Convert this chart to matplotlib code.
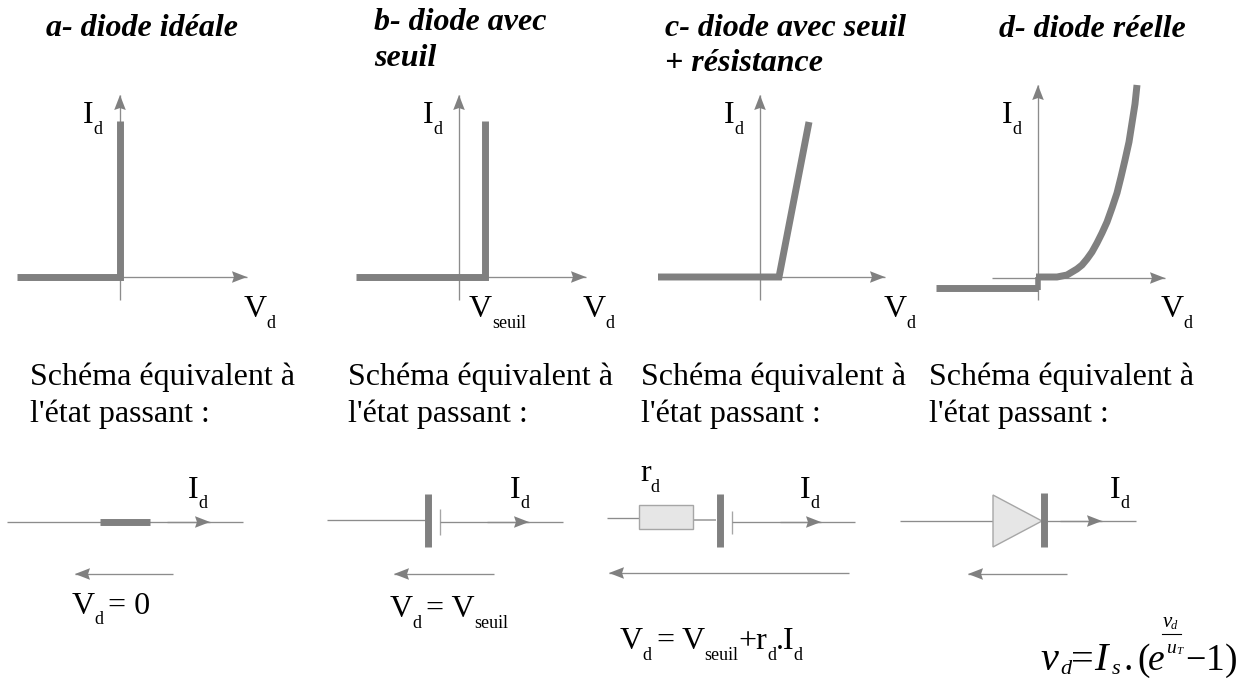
#!/usr/bin/env python3
# -*- coding: utf-8 -*-
"""
Caracteristiques de la diode : 4 modeles et schemas equivalents
Tout est place en pixels de l'image (y vers le bas)
"""

import matplotlib
matplotlib.use("Agg")
import matplotlib.pyplot as plt
from matplotlib.patches import Polygon, Rectangle

plt.rcParams['font.family'] = ['Liberation Serif', 'DejaVu Serif']

W, H = 1243, 679
GREY = "#808080"
LIGHT = "#a6a6a6"
FILL = "#e6e6e6"

# titres (une ligne par entree)
title_lines = ["a- diode idéale", "b- diode avec", "seuil", "c- diode avec seuil", "+ résistance", "d- diode réelle"]
title_x = [46, 374, 374, 665, 665, 999]
title_y = [36, 30, 66, 36, 71, 37]

# caracteristiques I(V)
curve_a_x = [17, 120, 120]
curve_a_y = [277, 277, 121]
curve_b_x = [356, 485, 485]
curve_b_y = [277, 277, 121]
curve_c_x = [658, 779, 809]
curve_c_y = [277, 277, 122]
curve_d1_x = [936, 1038]
curve_d1_y = [288, 288]
curve_d_step_x = [1038, 1038]
curve_d_step_y = [290, 277]
curve_d2_x = [1036, 1057, 1062, 1067, 1072, 1077, 1082, 1087, 1092, 1097, 1102, 1107, 1112, 1117, 1121, 1125, 1129, 1132, 1135, 1137]
curve_d2_y = [277, 277, 276, 275, 272, 269, 265, 259, 252, 243, 233, 222, 208, 193, 177, 160, 142, 123, 104, 85]

# axes : x du y-axe, y de l'x-axe, debut x-axe, fin x-axe, haut y-axe
axis_vx = [120, 459, 760, 1038]
axis_hy = [277, 277, 277, 278]
axis_x0 = [120, 459, 760, 992]
axis_x1 = [247, 586, 885, 1165]
axis_top = [95, 95, 95, 85]
axis_bot = 300

equiv_x = [30, 348, 641, 929]
equiv_line1 = "Schéma équivalent à"
equiv_line2 = "l'état passant :"

# fleches de tension : depart, pointe, y
vd_arrow_start = [173, 494, 849, 1067]
vd_arrow_tip = [75, 394, 609, 968]
vd_arrow_y = [574, 574, 573, 574]

# fleches de courant
id_arrow_start = [167, 487, 780, 1060]
id_arrow_tip = [210, 529, 821, 1102]
id_arrow_y = [522, 522, 522, 521]

# formule : x, y, texte, taille, style
formula_x = [1040, 1060, 1071, 1094, 1112, 1124, 1137, 1148, 1185, 1206, 1225]
formula_y = [670, 674, 670, 670, 674, 670, 670, 670, 670, 670, 670]
formula_s = ["v", "d", "=", "I", "s", ".", "(", "e", "−", "1", ")"]
formula_size = [29, 16, 29, 29, 16, 27, 27, 27, 26, 27, 27]
formula_style = ["italic", "italic", "normal", "italic", "italic", "normal", "normal", "italic", "normal", "normal", "normal"]
exp_x = [1163, 1171, 1166, 1176]
exp_y = [627, 629, 653, 654]
exp_s = ["v", "d", "u", "T"]
exp_size = [15, 9, 14, 8]

fig = plt.figure(figsize=(W / 100, H / 100), dpi=100)
ax = fig.add_axes([0, 0, 1, 1])
ax.set_xlim(0, W)
ax.set_ylim(H, 0)
ax.axis('off')
renderer = fig.canvas.get_renderer()


def thin(xs, ys, color="#8c8c8c", lw=0.95):
    ax.plot(xs, ys, color=color, lw=lw, solid_capstyle='butt', zorder=2)


def thick(xs, ys, lw=5.0, join='miter'):
    ax.plot(xs, ys, color=GREY, lw=lw, solid_capstyle='butt', solid_joinstyle=join, zorder=3)


def arrow(x0, y0, x1, y1, size=15, half=5.8):
    # fleche fine avec tete triangulaire
    thin([x0, x1], [y0, y1])
    if y0 == y1:
        s = 1 if x1 > x0 else -1
        pts = [(x1, y1), (x1 - s * size, y1 - half), (x1 - s * size * 0.87, y1), (x1 - s * size, y1 + half)]
    else:
        s = 1 if y1 > y0 else -1
        pts = [(x1, y1), (x1 - half, y1 - s * size), (x1, y1 - s * size * 0.87), (x1 + half, y1 - s * size)]
    ax.add_patch(Polygon(pts, closed=True, fc=GREY, ec='none', zorder=4))


def runs(x, y, parts):
    # morceaux de texte poses a la suite sur la ligne de base y
    for part in parts:
        s, size, dy = part[0], part[1], part[2]
        gap = part[3] if len(part) > 3 else 0
        t = ax.text(x, y + dy, s, fontsize=size, ha='left', va='baseline', color='black', zorder=5)
        bb = t.get_window_extent(renderer)
        x = bb.x1 + gap


B = 23
S = 13
D = 10.5

for t, x, y in zip(title_lines, title_x, title_y):
    ax.text(x, y, t, fontsize=23, weight='bold', style='italic', ha='left', va='baseline', color='black')

for i in range(4):
    arrow(axis_x0[i], axis_hy[i], axis_x1[i], axis_hy[i])
    arrow(axis_vx[i], axis_bot, axis_vx[i], axis_top[i])
    ax.text(equiv_x[i], 385, equiv_line1, fontsize=23, ha='left', va='baseline', color='black')
    ax.text(equiv_x[i], 422, equiv_line2, fontsize=23, ha='left', va='baseline', color='black')
    arrow(vd_arrow_start[i], vd_arrow_y[i], vd_arrow_tip[i], vd_arrow_y[i])
    arrow(id_arrow_start[i], id_arrow_y[i], id_arrow_tip[i], id_arrow_y[i])

thick(curve_a_x, curve_a_y)
thick(curve_b_x, curve_b_y)
thick(curve_c_x, curve_c_y)
thick(curve_d1_x, curve_d1_y)
thick(curve_d_step_x, curve_d_step_y, lw=4.0)
thick(curve_d2_x, curve_d2_y, join='round')

# etiquettes des axes
for x in [83, 423, 724, 1002]:
    runs(x, 123, [("I", B, 0), ("d", S, D)])
for x in [244, 583, 884, 1161]:
    runs(x, 317, [("V", B, 0, -1), ("d", S, D)])
runs(469, 317, [("V", B, 0), ("seuil", S, D)])

# schema a
thin([7, 243], [522, 522])
thick([100, 150], [522, 522])
runs(188, 498, [("I", B, 0), ("d", S, D)])
runs(72, 614, [("V", B, 0, -1), ("d", S, D, 5), ("= 0", B, 0)])

# schema b
thin([327, 428], [520, 520])
thick([428, 428], [494, 547])
thin([440, 440], [509, 535], color=LIGHT)
thin([440, 563], [522, 522])
runs(510, 498, [("I", B, 0), ("d", S, D)])
runs(390, 617, [("V", B, 0, -1), ("d", S, D, 5), ("= V", B, 0), ("seuil", S, D)])

# schema c
thin([607, 640], [518, 518])
ax.add_patch(Rectangle((639, 505), 54, 24, fc=FILL, ec=LIGHT, lw=1.0, zorder=3))
thin([693, 716], [520, 520], color=LIGHT, lw=1.3)
thick([720, 720], [494, 547])
thin([732, 732], [511, 534], color=LIGHT)
thin([732, 855], [522, 522])
runs(640, 481, [("r", B, 0), ("d", S, D)])
runs(800, 498, [("I", B, 0), ("d", S, D)])
runs(620, 649, [("V", B, 0, -1), ("d", S, D, 5), ("=", B, 0, 7), ("V", B, 0, 0), ("seuil", S, D, 0),
                ("+r", B, 0, 0), ("d", S, D, 0), (".I", B, 0, -1), ("d", S, D)])

# schema d
thin([900, 993], [521, 521])
ax.add_patch(Polygon([(993, 495), (1042, 521), (993, 547)], closed=True, fc=FILL, ec=LIGHT, lw=1.0, zorder=3))
thick([1044, 1044], [493, 547])
thin([1047, 1136], [521, 521])
runs(1110, 498, [("I", B, 0), ("d", S, D)])

# formule
for x, y, s, size, style in zip(formula_x, formula_y, formula_s, formula_size, formula_style):
    ax.text(x, y, s, fontsize=size, style=style, ha='left', va='baseline', color='black', zorder=5)
for x, y, s, size in zip(exp_x, exp_y, exp_s, exp_size):
    ax.text(x, y, s, fontsize=size, style='italic', ha='left', va='baseline', color='black', zorder=5)
ax.plot([1162, 1181], [634, 634], color='black', lw=0.8, zorder=5)

fig.savefig("out.png", dpi=100)
